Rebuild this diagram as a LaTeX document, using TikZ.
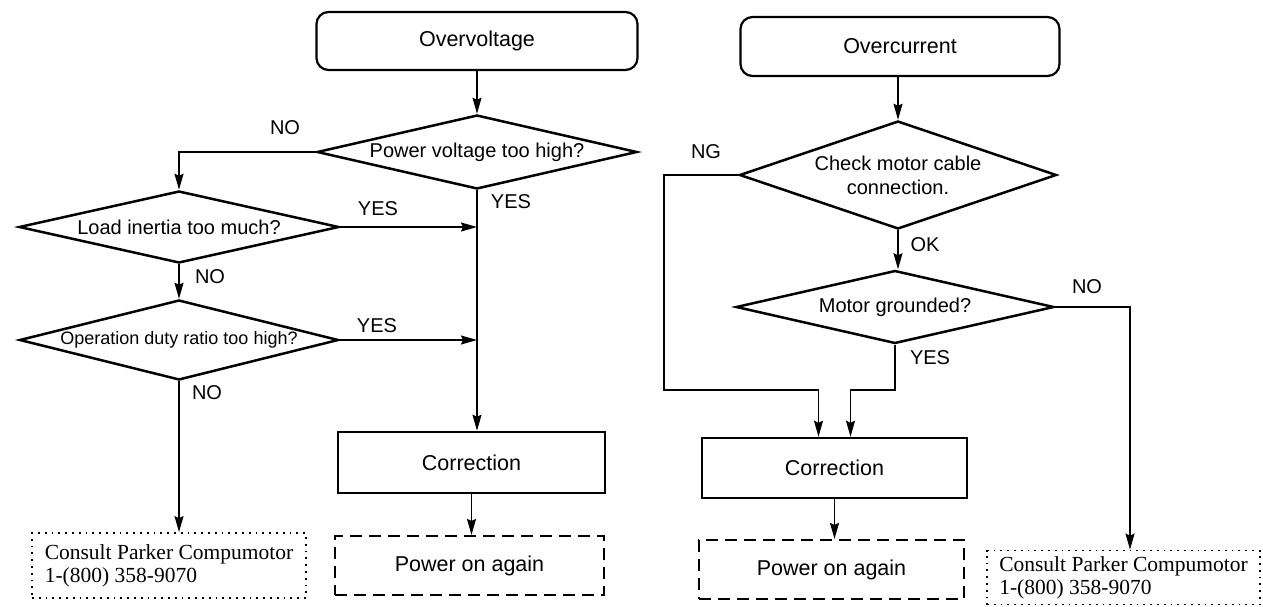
\documentclass[tikz,border=0pt]{standalone}
\usepackage{fontspec}
\setmainfont{Liberation Sans}
\newfontfamily\serifrm{Liberation Serif}
\usepackage{tikz}
\usetikzlibrary{shapes.geometric, arrows.meta}
\tikzset{every node/.append style={font=\fontsize{20}{24}\selectfont}}
\tikzset{
  startbox/.style={draw, line width=2.2pt, rounded corners=12pt, inner sep=0pt, font=\fontsize{21.5}{25}\selectfont},
  decision/.style={draw, diamond, line width=2.5pt, aspect=4, inner sep=0pt},
  fixbox/.style={draw, line width=2.5pt, inner sep=0pt, font=\fontsize{21.5}{25}\selectfont},
  againbox/.style={draw, line width=2.2pt, dash pattern=on 12pt off 7pt, inner sep=0pt, font=\fontsize{21.5}{25}\selectfont},
  consultbox/.style={draw, line width=1.8pt, dash pattern=on 1.8pt off 5pt, inner sep=0pt, align=left, font=\serifrm\fontsize{21.5}{23}\selectfont},
  flow/.style={-{Stealth[length=16pt, width=9pt, inset=2pt]}, line width=1.5pt},
  wire/.style={line width=1.5pt}
}

\begin{document}
\begin{tikzpicture}[x=1pt, y=-1pt]
    \useasboundingbox (0,0) rectangle (1263,606);
    % overvoltage
    \node[startbox, minimum width=321pt, minimum height=58pt] (ov) at (477,41) {Overvoltage};
    \node[decision, minimum width=320pt, minimum height=74pt] (pv) at (477,152) {Power voltage too high?};
    \node[decision, minimum width=320pt, minimum height=72pt] (li) at (179,227) {Load inertia too much?};
    \node[decision, minimum width=319pt, minimum height=80pt, font=\fontsize{18}{21}\selectfont] (od) at (179,340) {Operation duty ratio too high?};
    \node[fixbox, minimum width=267pt, minimum height=61pt] (corrL) at (471.5,462.5) {Correction};
    \node[againbox, minimum width=269pt, minimum height=59pt] (powL) at (469.5,565.5) {Power on again};
    \node[consultbox, minimum width=274pt, minimum height=65pt] (conL) at (169,565.5) {Consult Parker Compumotor\\1-(800) 358-9070};
    \draw[flow] (ov.south) -- (pv.north);
    \draw[flow] (pv.west) -| (li.north);
    \draw[flow] (pv.south) -- (pv.south |- corrL.north);
    \draw[flow] (li.east) -- (li.east -| pv.south);
    \draw[flow] (li.south) -- (od.north);
    \draw[flow] (od.east) -- (od.east -| pv.south);
    \draw[flow] (od.south) -- (od.south |- conL.north);
    \draw[flow] (corrL.south) -- (corrL.south |- powL.north);
    \node (noPV) at (285,128) {NO};
    \node (yesPV) at (511,202) {YES};
    \node (yesLI) at (378,209) {YES};
    \node (noLI) at (210,277) {NO};
    \node (yesOD) at (377,326) {YES};
    \node (noOD) at (207,393) {NO};
    % overcurrent
    \node[startbox, minimum width=319pt, minimum height=59pt] (oc) at (900,46.5) {Overcurrent};
    \node[decision, aspect=3, minimum width=317pt, minimum height=108pt, align=center] (cc) at (898,175) {Check motor cable\\connection.};
    \node[decision, minimum width=318pt, minimum height=73pt] (mg) at (895,307) {Motor grounded?};
    \node[fixbox, minimum width=265pt, minimum height=60pt] (corrR) at (834.5,468) {Correction};
    \node[againbox, minimum width=265pt, minimum height=59pt] (powR) at (831.5,569.5) {Power on again};
    \node[consultbox, minimum width=273pt, minimum height=54pt] (conR) at (1123.5,577.5) {Consult Parker Compumotor\\1-(800) 358-9070};
    \coordinate (ngturn) at (664,390);
    \draw[flow] (oc.south -| cc.north) -- (cc.north);
    \draw[flow] (cc.south) -- (cc.south |- mg.north);
    \draw[flow] (cc.west) -| (ngturn) -| ([xshift=-16pt]corrR.north);
    \draw[flow] (mg.south) -- (mg.south |- ngturn) -| ([xshift=16pt]corrR.north);
    \draw[flow] (mg.east) -| ([xshift=6.5pt]conR.north);
    \draw[flow] (corrR.south) -- (corrR.south |- powR.north);
    \node (ngCC) at (706,152) {NG};
    \node (okCC) at (925,245) {OK};
    \node (noMG) at (1087,287) {NO};
    \node (yesMG) at (930,358) {YES};
\end{tikzpicture}
\end{document}
